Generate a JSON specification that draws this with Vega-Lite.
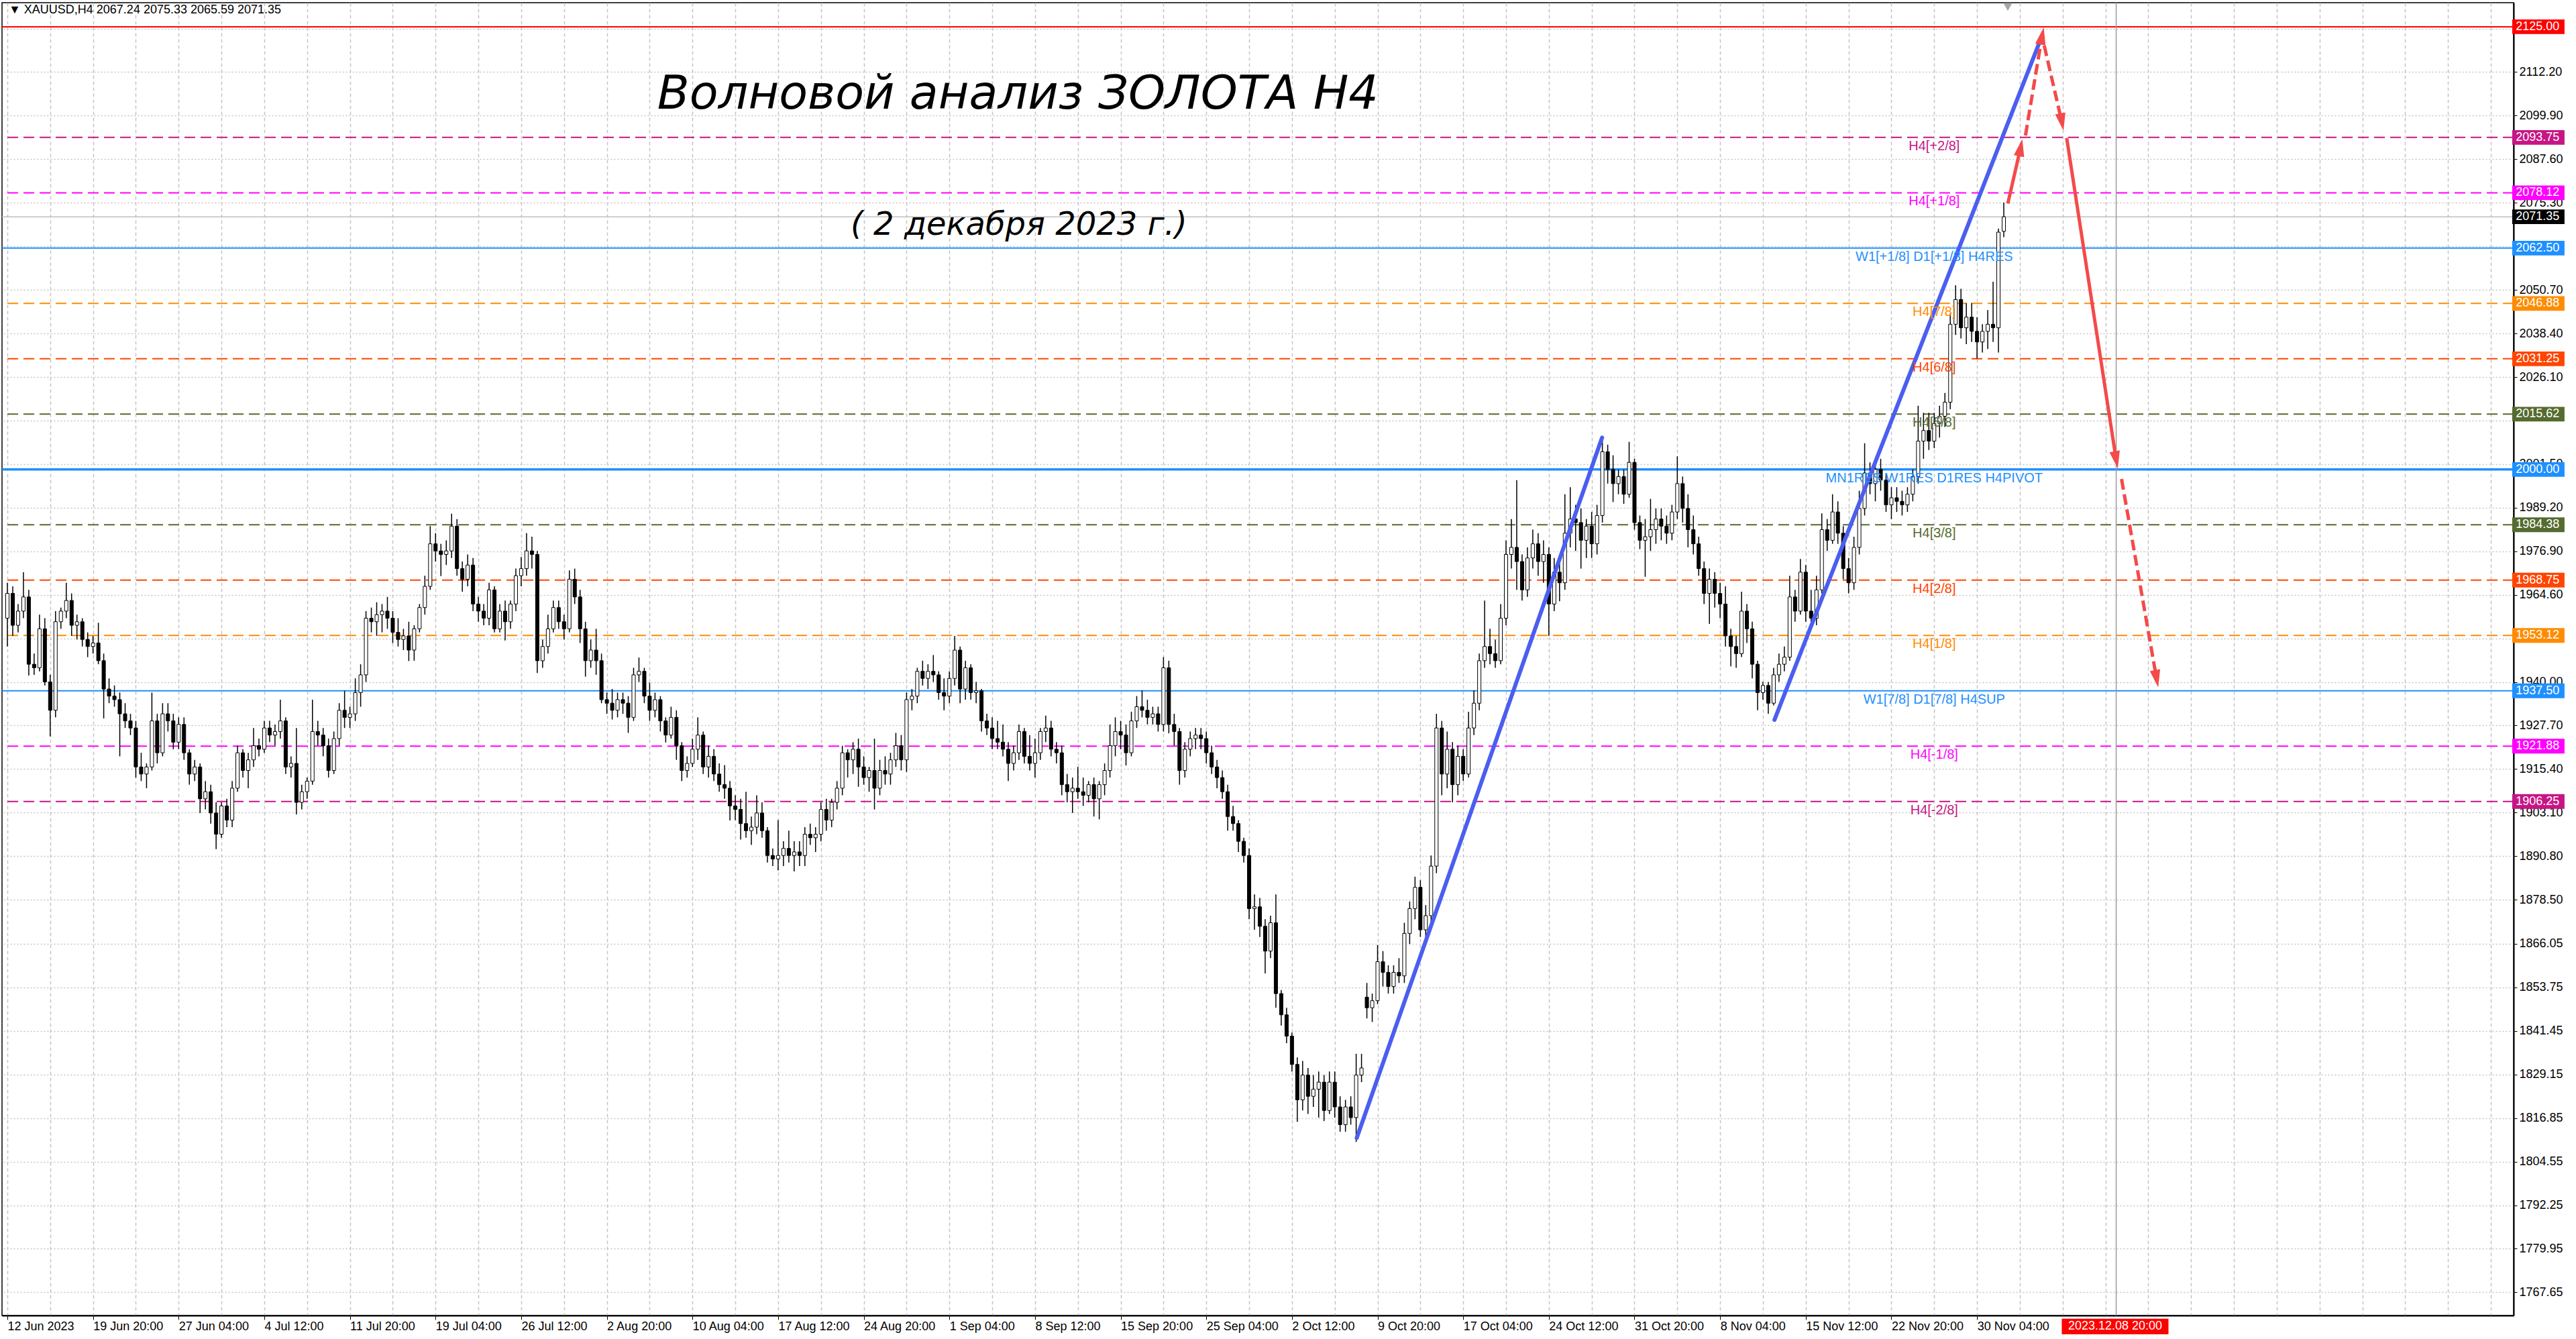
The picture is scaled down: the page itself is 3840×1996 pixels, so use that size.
{
  "$schema": "https://vega.github.io/schema/vega-lite/v6.json",
  "width": 3744,
  "height": 1957,
  "autosize": "none",
  "padding": {"left": 3, "top": 4, "right": 93, "bottom": 35},
  "background": "white",
  "config": {
    "view": {"stroke": "black", "strokeWidth": 1.5},
    "font": "Liberation Sans",
    "axis": {"title": null}
  },
  "datasets": {
    "levels": [
      {"p": 2125.00, "tag": "TOP"},
      {"p": 2093.75, "tag": "H4[+2/8]"},
      {"p": 2078.12, "tag": "H4[+1/8]"},
      {"p": 2062.50, "tag": "W1[+1/8] D1[+1/8] H4RES"},
      {"p": 2046.88, "tag": "H4[7/8]"},
      {"p": 2031.25, "tag": "H4[6/8]"},
      {"p": 2015.62, "tag": "H4[5/8]"},
      {"p": 2000.00, "tag": "MN1RES W1RES D1RES H4PIVOT"},
      {"p": 1984.38, "tag": "H4[3/8]"},
      {"p": 1968.75, "tag": "H4[2/8]"},
      {"p": 1953.12, "tag": "H4[1/8]"},
      {"p": 1937.50, "tag": "W1[7/8] D1[7/8] H4SUP"},
      {"p": 1921.88, "tag": "H4[-1/8]"},
      {"p": 1906.25, "tag": "H4[-2/8]"}
    ],
    "cur": [{"p": 2071.35}],
    "vline": [{"t": 788}],
    "trends": [
      {"L": "B1", "t": 504.2, "p": 1811.2},
      {"L": "B1", "t": 595.9, "p": 2009.0},
      {"L": "B2", "t": 660.3, "p": 1929.3},
      {"L": "B2", "t": 759.9, "p": 2121.7}
    ],
    "arrows": [
      {"a": "A1", "t": 747.5, "p": 2075.1},
      {"a": "A1", "t": 752.3, "p": 2090.9},
      {"a": "A2", "t": 754.1, "p": 2094.3},
      {"a": "A2", "t": 760.3, "p": 2122.4},
      {"a": "A3", "t": 761.1, "p": 2119.7},
      {"a": "A3", "t": 767.7, "p": 2098.1},
      {"a": "A4", "t": 769.5, "p": 2093.6},
      {"a": "A4", "t": 788.0, "p": 2002.7},
      {"a": "A5", "t": 790.0, "p": 1997.3},
      {"a": "A5", "t": 803.1, "p": 1940.9}
    ],
    "heads": [
      {"a": "A1", "t": 752.3, "p": 2090.9},
      {"a": "A2", "t": 760.3, "p": 2122.4},
      {"a": "A3", "t": 767.7, "p": 2098.1},
      {"a": "A4", "t": 788.0, "p": 2002.7},
      {"a": "A5", "t": 803.1, "p": 1940.9}
    ],
    "candles": [
      {"t":0,"o":1958,"h":1968,"l":1950,"c":1965},
      {"t":2,"o":1965,"h":1967,"l":1953,"c":1956},
      {"t":4,"o":1956,"h":1962,"l":1954,"c":1960},
      {"t":6,"o":1960,"h":1971,"l":1958,"c":1964},
      {"t":8,"o":1964,"h":1966,"l":1941.8,"c":1945},
      {"t":10,"o":1945,"h":1948,"l":1942,"c":1944},
      {"t":12,"o":1944,"h":1959,"l":1943,"c":1955},
      {"t":14,"o":1955,"h":1958,"l":1939,"c":1940},
      {"t":16,"o":1940,"h":1942,"l":1924.6,"c":1932},
      {"t":18,"o":1932,"h":1960,"l":1930,"c":1957},
      {"t":20,"o":1957,"h":1961,"l":1955,"c":1960},
      {"t":22,"o":1960,"h":1968,"l":1958,"c":1963},
      {"t":24,"o":1963,"h":1965,"l":1953,"c":1956},
      {"t":26,"o":1956,"h":1959,"l":1952,"c":1957},
      {"t":28,"o":1957,"h":1958,"l":1950,"c":1952},
      {"t":30,"o":1952,"h":1954,"l":1947,"c":1950},
      {"t":32,"o":1950,"h":1953,"l":1948,"c":1951},
      {"t":34,"o":1951,"h":1956.7,"l":1945,"c":1946},
      {"t":36,"o":1946,"h":1948,"l":1929.7,"c":1938},
      {"t":38,"o":1938,"h":1941,"l":1934,"c":1936},
      {"t":40,"o":1936,"h":1939,"l":1933,"c":1935},
      {"t":42,"o":1935,"h":1937,"l":1919,"c":1931},
      {"t":44,"o":1931,"h":1934,"l":1927,"c":1929},
      {"t":46,"o":1929,"h":1931,"l":1925,"c":1927},
      {"t":48,"o":1927,"h":1929,"l":1913,"c":1916},
      {"t":50,"o":1916,"h":1920,"l":1912,"c":1914},
      {"t":52,"o":1914,"h":1917,"l":1910,"c":1916},
      {"t":54,"o":1916,"h":1937,"l":1915,"c":1929},
      {"t":56,"o":1929,"h":1931,"l":1917,"c":1920},
      {"t":58,"o":1920,"h":1934,"l":1919,"c":1931},
      {"t":60,"o":1931,"h":1934,"l":1926,"c":1929},
      {"t":62,"o":1929,"h":1931,"l":1921,"c":1923},
      {"t":64,"o":1923,"h":1930,"l":1921,"c":1928},
      {"t":66,"o":1928,"h":1930,"l":1918,"c":1920},
      {"t":68,"o":1920,"h":1921,"l":1911,"c":1914},
      {"t":70,"o":1914,"h":1918,"l":1912,"c":1916},
      {"t":72,"o":1916,"h":1917,"l":1903,"c":1907},
      {"t":74,"o":1907,"h":1912,"l":1904,"c":1909},
      {"t":76,"o":1909,"h":1911,"l":1900,"c":1903},
      {"t":78,"o":1903,"h":1906,"l":1892.8,"c":1897},
      {"t":80,"o":1897,"h":1906,"l":1896,"c":1905},
      {"t":82,"o":1905,"h":1907,"l":1899,"c":1901},
      {"t":84,"o":1901,"h":1912,"l":1899,"c":1910},
      {"t":86,"o":1910,"h":1922,"l":1909,"c":1920},
      {"t":88,"o":1920,"h":1921,"l":1913,"c":1915},
      {"t":90,"o":1915,"h":1920,"l":1910,"c":1918},
      {"t":92,"o":1918,"h":1927,"l":1916,"c":1922},
      {"t":94,"o":1922,"h":1924,"l":1919,"c":1921},
      {"t":96,"o":1921,"h":1929,"l":1920,"c":1927},
      {"t":98,"o":1927,"h":1929,"l":1923,"c":1925},
      {"t":100,"o":1925,"h":1928,"l":1922,"c":1926},
      {"t":102,"o":1926,"h":1935,"l":1924,"c":1929},
      {"t":104,"o":1929,"h":1930,"l":1914,"c":1916},
      {"t":106,"o":1916,"h":1919,"l":1913,"c":1917},
      {"t":108,"o":1917,"h":1927,"l":1902.6,"c":1906},
      {"t":110,"o":1906,"h":1911,"l":1904,"c":1909},
      {"t":112,"o":1909,"h":1913,"l":1907,"c":1912},
      {"t":114,"o":1912,"h":1935,"l":1911,"c":1926},
      {"t":116,"o":1926,"h":1929,"l":1922,"c":1925},
      {"t":118,"o":1925,"h":1927,"l":1919,"c":1922},
      {"t":120,"o":1922,"h":1924,"l":1913,"c":1915},
      {"t":122,"o":1915,"h":1926,"l":1914,"c":1924},
      {"t":124,"o":1924,"h":1934,"l":1922,"c":1932},
      {"t":126,"o":1932,"h":1937.5,"l":1927,"c":1930},
      {"t":128,"o":1930,"h":1933,"l":1927,"c":1931},
      {"t":130,"o":1931,"h":1941,"l":1929,"c":1937},
      {"t":132,"o":1937,"h":1945,"l":1933,"c":1942},
      {"t":134,"o":1942,"h":1960,"l":1940,"c":1958},
      {"t":136,"o":1958,"h":1961,"l":1954,"c":1957},
      {"t":138,"o":1957,"h":1962.5,"l":1953,"c":1959},
      {"t":140,"o":1959,"h":1962,"l":1954,"c":1960},
      {"t":142,"o":1960,"h":1964,"l":1955,"c":1958},
      {"t":144,"o":1958,"h":1960,"l":1951,"c":1954},
      {"t":146,"o":1954,"h":1958,"l":1950,"c":1952},
      {"t":148,"o":1952,"h":1955,"l":1949,"c":1953},
      {"t":150,"o":1953,"h":1957,"l":1945.9,"c":1949},
      {"t":152,"o":1949,"h":1956,"l":1946,"c":1955},
      {"t":154,"o":1955,"h":1962,"l":1954,"c":1961},
      {"t":156,"o":1961,"h":1970,"l":1959,"c":1967},
      {"t":158,"o":1967,"h":1984,"l":1966,"c":1979},
      {"t":160,"o":1979,"h":1982,"l":1974,"c":1977},
      {"t":162,"o":1977,"h":1979,"l":1969.9,"c":1976},
      {"t":164,"o":1976,"h":1980,"l":1973,"c":1977},
      {"t":166,"o":1977,"h":1987.5,"l":1975,"c":1984},
      {"t":168,"o":1984,"h":1986,"l":1970,"c":1972},
      {"t":170,"o":1972,"h":1974,"l":1965.5,"c":1969},
      {"t":172,"o":1969,"h":1976,"l":1967,"c":1973},
      {"t":174,"o":1973,"h":1975,"l":1960,"c":1962},
      {"t":176,"o":1962,"h":1964,"l":1957,"c":1960},
      {"t":178,"o":1960,"h":1962,"l":1956,"c":1958},
      {"t":180,"o":1958,"h":1968,"l":1956,"c":1966},
      {"t":182,"o":1966,"h":1967,"l":1954,"c":1955},
      {"t":184,"o":1955,"h":1962,"l":1954,"c":1960},
      {"t":186,"o":1960,"h":1963,"l":1951.7,"c":1957},
      {"t":188,"o":1957,"h":1963,"l":1955,"c":1962},
      {"t":190,"o":1962,"h":1972,"l":1960,"c":1970},
      {"t":192,"o":1970,"h":1975.3,"l":1967,"c":1972},
      {"t":194,"o":1972,"h":1982,"l":1970,"c":1977},
      {"t":196,"o":1977,"h":1981,"l":1972,"c":1976},
      {"t":198,"o":1976,"h":1977,"l":1942.5,"c":1946},
      {"t":200,"o":1946,"h":1952,"l":1944,"c":1950},
      {"t":202,"o":1950,"h":1959,"l":1948,"c":1955},
      {"t":204,"o":1955,"h":1963,"l":1954,"c":1961},
      {"t":206,"o":1961,"h":1963,"l":1955,"c":1957},
      {"t":208,"o":1957,"h":1959,"l":1952,"c":1955},
      {"t":210,"o":1955,"h":1971.5,"l":1954,"c":1969},
      {"t":212,"o":1969,"h":1972,"l":1962,"c":1964},
      {"t":214,"o":1964,"h":1966,"l":1951,"c":1955},
      {"t":216,"o":1955,"h":1957,"l":1941.5,"c":1946},
      {"t":218,"o":1946,"h":1952,"l":1944,"c":1949},
      {"t":220,"o":1949,"h":1955,"l":1942,"c":1946},
      {"t":222,"o":1946,"h":1948,"l":1934,"c":1935},
      {"t":224,"o":1935,"h":1937,"l":1931,"c":1934},
      {"t":226,"o":1934,"h":1938,"l":1929.4,"c":1932},
      {"t":228,"o":1932,"h":1937,"l":1930,"c":1935},
      {"t":230,"o":1935,"h":1937,"l":1931,"c":1934},
      {"t":232,"o":1934,"h":1936,"l":1925.6,"c":1930},
      {"t":234,"o":1930,"h":1944,"l":1929,"c":1942},
      {"t":236,"o":1942,"h":1946.9,"l":1940,"c":1943},
      {"t":238,"o":1943,"h":1944,"l":1934,"c":1936},
      {"t":240,"o":1936,"h":1939.8,"l":1929,"c":1932},
      {"t":242,"o":1932,"h":1937,"l":1930,"c":1935},
      {"t":244,"o":1935,"h":1936,"l":1926,"c":1929},
      {"t":246,"o":1929,"h":1930,"l":1922.9,"c":1925},
      {"t":248,"o":1925,"h":1933,"l":1924,"c":1930},
      {"t":250,"o":1930,"h":1932,"l":1918,"c":1922},
      {"t":252,"o":1922,"h":1923,"l":1912,"c":1915},
      {"t":254,"o":1915,"h":1919,"l":1913,"c":1917},
      {"t":256,"o":1917,"h":1924,"l":1916,"c":1921},
      {"t":258,"o":1921,"h":1930,"l":1918,"c":1925},
      {"t":260,"o":1925,"h":1926,"l":1914,"c":1916},
      {"t":262,"o":1916,"h":1922,"l":1913,"c":1919},
      {"t":264,"o":1919,"h":1921,"l":1912,"c":1914},
      {"t":266,"o":1914,"h":1917,"l":1909,"c":1911},
      {"t":268,"o":1911,"h":1916.5,"l":1907,"c":1910},
      {"t":270,"o":1910,"h":1912,"l":1900.9,"c":1905},
      {"t":272,"o":1905,"h":1908,"l":1901,"c":1904},
      {"t":274,"o":1904,"h":1907,"l":1895.5,"c":1900},
      {"t":276,"o":1900,"h":1909,"l":1896,"c":1898},
      {"t":278,"o":1898,"h":1902,"l":1894,"c":1899},
      {"t":280,"o":1899,"h":1908,"l":1897,"c":1903},
      {"t":282,"o":1903,"h":1906,"l":1896,"c":1898},
      {"t":284,"o":1898,"h":1899,"l":1889,"c":1891},
      {"t":286,"o":1891,"h":1893,"l":1888,"c":1890},
      {"t":288,"o":1890,"h":1901,"l":1886.8,"c":1891},
      {"t":290,"o":1891,"h":1895,"l":1888,"c":1893},
      {"t":292,"o":1893,"h":1898,"l":1889,"c":1891},
      {"t":294,"o":1891,"h":1895,"l":1886.5,"c":1892},
      {"t":296,"o":1892,"h":1895,"l":1888,"c":1891},
      {"t":298,"o":1891,"h":1899,"l":1888,"c":1897},
      {"t":300,"o":1897,"h":1900,"l":1894,"c":1896},
      {"t":302,"o":1896,"h":1899,"l":1892,"c":1897},
      {"t":304,"o":1897,"h":1906,"l":1895,"c":1904},
      {"t":306,"o":1904,"h":1907,"l":1898,"c":1901},
      {"t":308,"o":1901,"h":1907,"l":1899,"c":1906},
      {"t":310,"o":1906,"h":1912,"l":1904,"c":1910},
      {"t":312,"o":1910,"h":1922,"l":1908,"c":1920},
      {"t":314,"o":1920,"h":1921,"l":1913,"c":1918},
      {"t":316,"o":1918,"h":1923,"l":1914,"c":1921},
      {"t":318,"o":1921,"h":1924,"l":1910.4,"c":1916},
      {"t":320,"o":1916,"h":1919,"l":1911,"c":1913},
      {"t":322,"o":1913,"h":1916,"l":1909,"c":1915},
      {"t":324,"o":1915,"h":1924,"l":1904,"c":1910},
      {"t":326,"o":1910,"h":1918,"l":1908,"c":1915},
      {"t":328,"o":1915,"h":1919,"l":1911,"c":1914},
      {"t":330,"o":1914,"h":1920,"l":1911,"c":1918},
      {"t":332,"o":1918,"h":1925.6,"l":1916,"c":1922},
      {"t":334,"o":1922,"h":1925,"l":1915,"c":1918},
      {"t":336,"o":1918,"h":1937,"l":1914.6,"c":1935},
      {"t":338,"o":1935,"h":1938,"l":1932,"c":1936},
      {"t":340,"o":1936,"h":1944,"l":1934,"c":1943},
      {"t":342,"o":1943,"h":1946,"l":1939,"c":1941},
      {"t":344,"o":1941,"h":1945,"l":1938,"c":1943},
      {"t":346,"o":1943,"h":1947.6,"l":1940,"c":1942},
      {"t":348,"o":1942,"h":1943,"l":1935,"c":1937},
      {"t":350,"o":1937,"h":1941,"l":1932,"c":1936},
      {"t":352,"o":1936,"h":1943,"l":1934,"c":1941},
      {"t":354,"o":1941,"h":1953,"l":1939,"c":1949},
      {"t":356,"o":1949,"h":1950,"l":1934,"c":1938},
      {"t":358,"o":1938,"h":1946,"l":1935,"c":1944},
      {"t":360,"o":1944,"h":1945,"l":1935,"c":1937},
      {"t":362,"o":1937,"h":1940,"l":1934,"c":1937.5},
      {"t":364,"o":1937.5,"h":1938,"l":1926,"c":1929},
      {"t":366,"o":1929,"h":1931,"l":1925,"c":1927},
      {"t":368,"o":1927,"h":1930,"l":1921,"c":1924},
      {"t":370,"o":1924,"h":1929,"l":1921,"c":1923},
      {"t":372,"o":1923,"h":1928,"l":1919,"c":1921},
      {"t":374,"o":1921,"h":1923,"l":1912,"c":1917},
      {"t":376,"o":1917,"h":1922,"l":1915,"c":1920},
      {"t":378,"o":1920,"h":1928,"l":1918,"c":1926},
      {"t":380,"o":1926,"h":1927,"l":1917,"c":1919},
      {"t":382,"o":1919,"h":1925,"l":1915,"c":1917},
      {"t":384,"o":1917,"h":1924,"l":1913,"c":1920},
      {"t":386,"o":1920,"h":1927,"l":1918,"c":1926},
      {"t":388,"o":1926,"h":1930.5,"l":1923,"c":1927},
      {"t":390,"o":1927,"h":1929,"l":1919,"c":1921},
      {"t":392,"o":1921,"h":1923,"l":1917,"c":1920},
      {"t":394,"o":1920,"h":1922,"l":1908,"c":1911},
      {"t":396,"o":1911,"h":1914,"l":1906,"c":1909},
      {"t":398,"o":1909,"h":1913,"l":1903,"c":1910},
      {"t":400,"o":1910,"h":1916,"l":1907,"c":1909},
      {"t":402,"o":1909,"h":1913,"l":1905,"c":1908},
      {"t":404,"o":1908,"h":1912,"l":1906,"c":1911},
      {"t":406,"o":1911,"h":1913,"l":1902,"c":1907},
      {"t":408,"o":1907,"h":1912,"l":1901.2,"c":1911},
      {"t":410,"o":1911,"h":1917,"l":1908,"c":1915},
      {"t":412,"o":1915,"h":1928,"l":1913,"c":1922},
      {"t":414,"o":1922,"h":1930,"l":1919,"c":1926},
      {"t":416,"o":1926,"h":1929,"l":1921,"c":1925},
      {"t":418,"o":1925,"h":1928,"l":1916.4,"c":1920},
      {"t":420,"o":1920,"h":1931.6,"l":1919,"c":1929},
      {"t":422,"o":1929,"h":1936,"l":1927,"c":1933},
      {"t":424,"o":1933,"h":1937.6,"l":1930,"c":1932},
      {"t":426,"o":1932,"h":1935,"l":1928,"c":1930},
      {"t":428,"o":1930,"h":1933,"l":1928,"c":1931},
      {"t":430,"o":1931,"h":1933,"l":1926,"c":1928},
      {"t":432,"o":1928,"h":1947,"l":1926,"c":1944},
      {"t":434,"o":1944,"h":1946,"l":1925.5,"c":1928},
      {"t":436,"o":1928,"h":1931,"l":1922,"c":1926},
      {"t":438,"o":1926,"h":1927,"l":1911,"c":1915},
      {"t":440,"o":1915,"h":1923,"l":1913,"c":1921},
      {"t":442,"o":1921,"h":1926,"l":1919,"c":1924},
      {"t":444,"o":1924,"h":1927,"l":1921,"c":1925},
      {"t":446,"o":1925,"h":1927,"l":1921,"c":1924},
      {"t":448,"o":1924,"h":1926,"l":1917,"c":1920},
      {"t":450,"o":1920,"h":1922,"l":1914,"c":1916},
      {"t":452,"o":1916,"h":1918,"l":1910,"c":1913},
      {"t":454,"o":1913,"h":1915,"l":1907,"c":1909},
      {"t":456,"o":1909,"h":1911,"l":1898,"c":1902},
      {"t":458,"o":1902,"h":1905,"l":1898,"c":1900},
      {"t":460,"o":1900,"h":1901,"l":1892,"c":1895},
      {"t":462,"o":1895,"h":1896,"l":1889,"c":1891},
      {"t":464,"o":1891,"h":1893,"l":1873,"c":1876},
      {"t":466,"o":1876,"h":1880,"l":1870,"c":1876.5},
      {"t":468,"o":1876.5,"h":1879,"l":1868,"c":1871},
      {"t":470,"o":1871,"h":1873,"l":1857.7,"c":1864},
      {"t":472,"o":1864,"h":1874,"l":1862,"c":1872},
      {"t":474,"o":1872,"h":1880,"l":1848,"c":1852},
      {"t":476,"o":1852,"h":1853,"l":1843,"c":1846},
      {"t":478,"o":1846,"h":1848,"l":1838,"c":1840},
      {"t":480,"o":1840,"h":1841,"l":1830,"c":1832},
      {"t":482,"o":1832,"h":1834,"l":1815.8,"c":1822},
      {"t":484,"o":1822,"h":1833,"l":1819,"c":1829},
      {"t":486,"o":1829,"h":1831,"l":1818,"c":1823},
      {"t":488,"o":1823,"h":1829,"l":1820,"c":1825},
      {"t":490,"o":1825,"h":1830,"l":1817,"c":1827},
      {"t":492,"o":1827,"h":1829,"l":1816,"c":1819},
      {"t":494,"o":1819,"h":1830,"l":1818,"c":1827},
      {"t":496,"o":1827,"h":1830,"l":1817,"c":1820},
      {"t":498,"o":1820,"h":1823,"l":1813,"c":1815},
      {"t":500,"o":1815,"h":1822,"l":1813,"c":1820},
      {"t":502,"o":1820,"h":1823,"l":1815,"c":1817},
      {"t":504,"o":1817,"h":1835,"l":1810.1,"c":1829},
      {"t":506,"o":1829,"h":1835,"l":1827,"c":1831},
      {"t":508,"o":1851,"h":1855,"l":1845,"c":1848},
      {"t":510,"o":1848,"h":1852,"l":1844,"c":1850},
      {"t":512,"o":1850,"h":1865.7,"l":1849,"c":1861},
      {"t":514,"o":1861,"h":1864,"l":1854,"c":1858},
      {"t":516,"o":1858,"h":1860,"l":1852,"c":1854},
      {"t":518,"o":1854,"h":1860,"l":1852,"c":1858},
      {"t":520,"o":1858,"h":1862,"l":1855,"c":1857},
      {"t":522,"o":1857,"h":1872,"l":1855,"c":1869},
      {"t":524,"o":1869,"h":1878,"l":1866,"c":1876},
      {"t":526,"o":1876,"h":1885,"l":1873,"c":1882},
      {"t":528,"o":1882,"h":1884,"l":1868,"c":1870},
      {"t":530,"o":1870,"h":1877,"l":1866,"c":1874},
      {"t":532,"o":1874,"h":1891,"l":1872,"c":1888},
      {"t":534,"o":1888,"h":1931,"l":1886,"c":1927},
      {"t":536,"o":1927,"h":1929,"l":1908,"c":1914},
      {"t":538,"o":1914,"h":1926,"l":1910,"c":1921},
      {"t":540,"o":1921,"h":1923,"l":1906,"c":1911},
      {"t":542,"o":1911,"h":1922,"l":1908,"c":1919},
      {"t":544,"o":1919,"h":1921,"l":1912,"c":1914},
      {"t":546,"o":1914,"h":1931.6,"l":1913,"c":1927},
      {"t":548,"o":1927,"h":1937.6,"l":1925,"c":1934},
      {"t":550,"o":1934,"h":1948,"l":1932,"c":1946},
      {"t":552,"o":1946,"h":1963,"l":1944,"c":1950},
      {"t":554,"o":1950,"h":1955,"l":1945,"c":1948},
      {"t":556,"o":1948,"h":1952,"l":1944,"c":1946},
      {"t":558,"o":1946,"h":1962,"l":1945,"c":1958},
      {"t":560,"o":1958,"h":1980,"l":1956,"c":1976},
      {"t":562,"o":1976,"h":1986,"l":1972,"c":1978},
      {"t":564,"o":1978,"h":1997,"l":1966,"c":1974},
      {"t":566,"o":1974,"h":1976,"l":1963,"c":1966},
      {"t":568,"o":1966,"h":1978,"l":1964,"c":1975},
      {"t":570,"o":1975,"h":1983,"l":1972,"c":1979},
      {"t":572,"o":1979,"h":1982,"l":1970,"c":1974},
      {"t":574,"o":1974,"h":1980,"l":1968,"c":1976},
      {"t":576,"o":1976,"h":1978,"l":1953,"c":1962},
      {"t":578,"o":1962,"h":1975,"l":1960,"c":1971},
      {"t":580,"o":1971,"h":1976,"l":1962.8,"c":1968},
      {"t":582,"o":1968,"h":1993,"l":1966,"c":1982},
      {"t":584,"o":1982,"h":1995,"l":1978,"c":1986},
      {"t":586,"o":1986,"h":1990,"l":1977,"c":1985},
      {"t":588,"o":1985,"h":1989,"l":1972,"c":1980},
      {"t":590,"o":1980,"h":1986,"l":1975,"c":1984},
      {"t":592,"o":1984,"h":1988,"l":1975,"c":1979},
      {"t":594,"o":1979,"h":1990,"l":1976,"c":1987},
      {"t":596,"o":1987,"h":2009,"l":1985,"c":2005},
      {"t":598,"o":2005,"h":2007,"l":1996,"c":2000},
      {"t":600,"o":2000,"h":2004,"l":1990.8,"c":1996},
      {"t":602,"o":1996,"h":2000,"l":1993,"c":1998},
      {"t":604,"o":1998,"h":2000,"l":1990.3,"c":1993},
      {"t":606,"o":1993,"h":2007.8,"l":1992,"c":2002},
      {"t":608,"o":2002,"h":2003,"l":1983,"c":1985},
      {"t":610,"o":1985,"h":1987,"l":1977.5,"c":1980},
      {"t":612,"o":1980,"h":1986,"l":1969.7,"c":1981},
      {"t":614,"o":1981,"h":1991.7,"l":1977,"c":1983},
      {"t":616,"o":1983,"h":1989,"l":1979,"c":1986},
      {"t":618,"o":1986,"h":1989,"l":1980,"c":1984},
      {"t":620,"o":1984,"h":1987,"l":1979,"c":1982},
      {"t":622,"o":1982,"h":1990,"l":1980,"c":1988},
      {"t":624,"o":1988,"h":2003.7,"l":1986,"c":1996},
      {"t":626,"o":1996,"h":1998,"l":1985,"c":1989},
      {"t":628,"o":1989,"h":1993,"l":1978,"c":1983},
      {"t":630,"o":1983,"h":1987,"l":1976,"c":1979},
      {"t":632,"o":1979,"h":1981,"l":1970,"c":1972},
      {"t":634,"o":1972,"h":1974,"l":1962,"c":1965},
      {"t":636,"o":1965,"h":1972,"l":1956.4,"c":1969},
      {"t":638,"o":1969,"h":1971,"l":1961,"c":1965},
      {"t":640,"o":1965,"h":1968,"l":1958,"c":1962},
      {"t":642,"o":1962,"h":1967,"l":1950,"c":1953},
      {"t":644,"o":1953,"h":1955,"l":1944.4,"c":1950},
      {"t":646,"o":1950,"h":1953,"l":1944,"c":1948},
      {"t":648,"o":1948,"h":1965.5,"l":1947,"c":1960},
      {"t":650,"o":1960,"h":1962,"l":1951,"c":1955},
      {"t":652,"o":1955,"h":1957,"l":1941,"c":1945},
      {"t":654,"o":1945,"h":1946,"l":1932,"c":1937},
      {"t":656,"o":1937,"h":1940,"l":1935,"c":1939},
      {"t":658,"o":1939,"h":1940,"l":1931,"c":1934},
      {"t":660,"o":1934,"h":1944,"l":1933.4,"c":1942},
      {"t":662,"o":1942,"h":1948,"l":1940,"c":1945},
      {"t":664,"o":1945,"h":1950,"l":1943,"c":1947},
      {"t":666,"o":1947,"h":1970,"l":1946,"c":1964},
      {"t":668,"o":1964,"h":1966,"l":1957,"c":1960},
      {"t":670,"o":1960,"h":1974.7,"l":1959,"c":1971},
      {"t":672,"o":1971,"h":1973,"l":1957,"c":1960},
      {"t":674,"o":1960,"h":1966,"l":1955,"c":1958},
      {"t":676,"o":1958,"h":1970,"l":1956,"c":1966},
      {"t":678,"o":1966,"h":1987.6,"l":1965,"c":1983},
      {"t":680,"o":1983,"h":1986,"l":1977,"c":1980},
      {"t":682,"o":1980,"h":1993,"l":1979,"c":1988},
      {"t":684,"o":1988,"h":1991,"l":1979,"c":1982},
      {"t":686,"o":1982,"h":1984,"l":1969,"c":1972},
      {"t":688,"o":1972,"h":1975,"l":1965,"c":1968},
      {"t":690,"o":1968,"h":1981,"l":1966,"c":1978},
      {"t":692,"o":1978,"h":1994,"l":1976,"c":1989},
      {"t":694,"o":1989,"h":2007.4,"l":1987,"c":1999},
      {"t":696,"o":1999,"h":2002,"l":1993,"c":1996},
      {"t":698,"o":1996,"h":2003,"l":1991,"c":2000},
      {"t":700,"o":2000,"h":2003,"l":1994,"c":1997},
      {"t":702,"o":1997,"h":1999,"l":1988,"c":1990},
      {"t":704,"o":1990,"h":1995,"l":1986,"c":1992},
      {"t":706,"o":1992,"h":1995,"l":1988,"c":1991},
      {"t":708,"o":1991,"h":1994,"l":1987,"c":1990},
      {"t":710,"o":1990,"h":1995,"l":1988,"c":1993},
      {"t":712,"o":1993,"h":2000,"l":1991,"c":1998},
      {"t":714,"o":1998,"h":2018,"l":1996,"c":2008},
      {"t":716,"o":2008,"h":2016,"l":2003,"c":2011},
      {"t":718,"o":2011,"h":2016,"l":2005.5,"c":2008},
      {"t":720,"o":2008,"h":2016,"l":2006,"c":2013},
      {"t":722,"o":2013,"h":2018,"l":2009,"c":2015},
      {"t":724,"o":2015,"h":2021.6,"l":2012,"c":2019},
      {"t":726,"o":2019,"h":2044,"l":2017,"c":2041},
      {"t":728,"o":2041,"h":2052,"l":2038,"c":2048},
      {"t":730,"o":2048,"h":2051,"l":2037,"c":2040},
      {"t":732,"o":2040,"h":2047,"l":2035.4,"c":2043},
      {"t":734,"o":2043,"h":2047,"l":2036,"c":2039},
      {"t":736,"o":2039,"h":2043,"l":2031.3,"c":2036},
      {"t":738,"o":2036,"h":2041,"l":2033,"c":2039},
      {"t":740,"o":2039,"h":2045,"l":2034,"c":2041},
      {"t":742,"o":2041,"h":2053,"l":2036,"c":2040},
      {"t":744,"o":2040,"h":2068,"l":2033,"c":2067},
      {"t":746,"o":2067.24,"h":2075.33,"l":2065.59,"c":2071.35}
    ]
  },
  "layer": [
    {
      "data": {"name": "levels"},
      "mark": {"type": "rule", "strokeWidth": 2},
      "encoding": {
        "y": {
          "field": "p", "type": "quantitative",
          "scale": {"domain": [1761.1, 2131.8], "nice": false, "zero": false},
          "axis": {
            "orient": "right", "title": null,
            "values": [2124.5, 2112.2, 2099.9, 2087.6, 2075.3, 2063.0, 2050.7, 2038.4, 2026.1, 2013.8, 2001.5, 1989.2, 1976.9, 1964.6, 1952.3, 1940.0, 1927.7, 1915.4, 1903.1, 1890.8, 1878.5, 1866.05, 1853.75, 1841.45, 1829.15, 1816.85, 1804.55, 1792.25, 1779.95, 1767.65],
            "labelExpr": "datum.value === 2013.8 || datum.value === 2063 || datum.value === 2124.5 || datum.value === 1952.3 ? '' : format(datum.value, '.2f')",
            "labelFontSize": 18, "labelColor": "black", "labelAlign": "left",
            "labelPadding": 3, "labelOverlap": false, "labelFlush": false,
            "tickSize": 5, "tickColor": "black", "domainColor": "black", "domainWidth": 2,
            "grid": true, "gridColor": "#c4c4c4", "gridDash": [2, 3], "gridWidth": 1.5
          }
        },
        "color": {
          "field": "tag", "type": "nominal", "legend": null,
          "scale": {
            "domain": ["TOP", "H4[+2/8]", "H4[+1/8]", "W1[+1/8] D1[+1/8] H4RES", "H4[7/8]", "H4[6/8]", "H4[5/8]", "MN1RES W1RES D1RES H4PIVOT", "H4[3/8]", "H4[2/8]", "H4[1/8]", "W1[7/8] D1[7/8] H4SUP", "H4[-1/8]", "H4[-2/8]"],
            "range": ["#ff0000", "#c71585", "#ff00ff", "#1e90ff", "#ff8c00", "#ff4500", "#556b2f", "#1e90ff", "#556b2f", "#ff4500", "#ff8c00", "#1e90ff", "#ff00ff", "#c71585"]
          }
        },
        "strokeDash": {
          "field": "tag", "type": "nominal", "legend": null,
          "scale": {
            "domain": ["TOP", "H4[+2/8]", "H4[+1/8]", "W1[+1/8] D1[+1/8] H4RES", "H4[7/8]", "H4[6/8]", "H4[5/8]", "MN1RES W1RES D1RES H4PIVOT", "H4[3/8]", "H4[2/8]", "H4[1/8]", "W1[7/8] D1[7/8] H4SUP", "H4[-1/8]", "H4[-2/8]"],
            "range": [[1, 0], [16, 8], [16, 8], [1, 0], [16, 8], [16, 8], [16, 8], [1, 0], [16, 8], [16, 8], [16, 8], [1, 0], [16, 8], [16, 8]]
          }
        }
      }
    },
    {
      "data": {"name": "levels"},
      "transform": [{"filter": "datum.tag === 'MN1RES W1RES D1RES H4PIVOT'"}],
      "mark": {"type": "rule", "strokeWidth": 3.5, "color": "#1e90ff"},
      "encoding": {"y": {"field": "p", "type": "quantitative"}}
    },
    {
      "data": {"name": "cur"},
      "mark": {"type": "rule", "strokeWidth": 1.5, "color": "#c0c0c0"},
      "encoding": {"y": {"field": "p", "type": "quantitative"}}
    },
    {
      "data": {"name": "vline"},
      "mark": {"type": "rule", "strokeWidth": 1.5, "color": "#9a9a9a"},
      "encoding": {
        "x": {
          "field": "t", "type": "quantitative",
          "scale": {"domain": [-0.75, 935.25], "nice": false, "zero": false},
          "axis": {
            "orient": "bottom", "title": null,
            "values": [0, 16, 32, 48, 64, 80, 96, 112, 128, 144, 160, 176, 192, 208, 224, 240, 256, 272, 288, 304, 320, 336, 352, 368, 384, 400, 416, 432, 448, 464, 480, 496, 512, 528, 544, 560, 576, 592, 608, 624, 640, 656, 672, 688, 704, 720, 736, 752, 768, 784, 800, 816, 832, 848, 864, 880, 896, 912, 928],
            "labelExpr": "datum.value % 32 === 0 && datum.value <= 736 ? ['12 Jun 2023','19 Jun 20:00','27 Jun 04:00','4 Jul 12:00','11 Jul 20:00','19 Jul 04:00','26 Jul 12:00','2 Aug 20:00','10 Aug 04:00','17 Aug 12:00','24 Aug 20:00','1 Sep 04:00','8 Sep 12:00','15 Sep 20:00','25 Sep 04:00','2 Oct 12:00','9 Oct 20:00','17 Oct 04:00','24 Oct 12:00','31 Oct 20:00','8 Nov 04:00','15 Nov 12:00','22 Nov 20:00','30 Nov 04:00'][datum.value / 32] : ''",
            "labelAlign": "left", "labelBaseline": "top", "labelFontSize": 18, "labelColor": "black",
            "labelPadding": 1, "labelOverlap": false, "labelFlush": false,
            "tickSize": 6, "tickColor": "black",
            "tickOpacity": {"condition": {"test": "datum.value % 32 === 0 && datum.value <= 736", "value": 1}, "value": 0},
            "domainColor": "black", "domainWidth": 2,
            "grid": true, "gridColor": "#c4c4c4", "gridDash": [5, 4], "gridWidth": 1.5
          }
        }
      }
    },
    {
      "data": {"name": "candles"},
      "mark": {"type": "rule", "strokeWidth": 1.5, "color": "black"},
      "encoding": {
        "x": {"field": "t", "type": "quantitative"},
        "y": {"field": "l", "type": "quantitative"},
        "y2": {"field": "h"}
      }
    },
    {
      "data": {"name": "candles"},
      "mark": {"type": "bar", "width": 5, "stroke": "black", "strokeWidth": 1},
      "encoding": {
        "x": {"field": "t", "type": "quantitative"},
        "y": {"field": "o", "type": "quantitative"},
        "y2": {"field": "c"},
        "fill": {"condition": {"test": "datum.c >= datum.o", "value": "white"}, "value": "black"}
      }
    },
    {
      "data": {"name": "trends"},
      "mark": {"type": "line", "strokeWidth": 6, "color": "#4b5ef0", "strokeCap": "round"},
      "encoding": {
        "x": {"field": "t", "type": "quantitative"},
        "y": {"field": "p", "type": "quantitative"},
        "detail": {"field": "L"}
      }
    },
    {
      "data": {"name": "arrows"},
      "transform": [{"filter": {"field": "a", "oneOf": ["A1", "A4"]}}],
      "mark": {"type": "line", "strokeWidth": 5, "color": "#f44a4a"},
      "encoding": {
        "x": {"field": "t", "type": "quantitative"},
        "y": {"field": "p", "type": "quantitative"},
        "detail": {"field": "a"}
      }
    },
    {
      "data": {"name": "arrows"},
      "transform": [{"filter": {"field": "a", "oneOf": ["A2", "A3", "A5"]}}],
      "mark": {"type": "line", "strokeWidth": 5, "color": "#f44a4a", "strokeDash": [16, 7]},
      "encoding": {
        "x": {"field": "t", "type": "quantitative"},
        "y": {"field": "p", "type": "quantitative"},
        "detail": {"field": "a"}
      }
    },
    {
      "data": {"name": "heads"},
      "transform": [{"filter": {"field": "a", "oneOf": ["A1", "A2"]}}],
      "mark": {"type": "point", "shape": "M0,-1L0.6,1L-0.6,1Z", "size": 676, "angle": 11, "filled": true, "opacity": 1, "color": "#f44a4a"},
      "encoding": {
        "x": {"field": "t", "type": "quantitative"},
        "y": {"field": "p", "type": "quantitative"}
      }
    },
    {
      "data": {"name": "heads"},
      "transform": [{"filter": {"field": "a", "oneOf": ["A3", "A4", "A5"]}}],
      "mark": {"type": "point", "shape": "M0,-1L0.6,1L-0.6,1Z", "size": 676, "angle": 169.5, "filled": true, "opacity": 1, "color": "#f44a4a"},
      "encoding": {
        "x": {"field": "t", "type": "quantitative"},
        "y": {"field": "p", "type": "quantitative"}
      }
    },
    {
      "data": {"name": "levels"},
      "transform": [{"filter": "datum.tag !== 'TOP'"}],
      "mark": {"type": "text", "align": "center", "baseline": "top", "dy": 3, "fontSize": 20},
      "encoding": {
        "x": {"datum": 720, "type": "quantitative"},
        "y": {"field": "p", "type": "quantitative"},
        "text": {"field": "tag"},
        "color": {"field": "tag", "type": "nominal", "legend": null}
      }
    },
    {
      "data": {"name": "levels"},
      "mark": {"type": "point", "shape": "M-1,-0.28L1,-0.28L1,0.28L-1,0.28Z", "size": 6084, "filled": true, "opacity": 1},
      "encoding": {
        "x": {"datum": 945.75, "type": "quantitative"},
        "y": {"field": "p", "type": "quantitative"},
        "color": {"field": "tag", "type": "nominal", "legend": null}
      }
    },
    {
      "data": {"name": "levels"},
      "mark": {"type": "text", "align": "left", "baseline": "middle", "fontSize": 18, "color": "white"},
      "encoding": {
        "x": {"datum": 937.3, "type": "quantitative"},
        "y": {"field": "p", "type": "quantitative"},
        "text": {"field": "p", "type": "quantitative", "format": ".2f"}
      }
    },
    {
      "data": {"name": "cur"},
      "mark": {"type": "point", "shape": "M-1,-0.28L1,-0.28L1,0.28L-1,0.28Z", "size": 6084, "filled": true, "opacity": 1, "color": "black"},
      "encoding": {
        "x": {"datum": 945.75, "type": "quantitative"},
        "y": {"field": "p", "type": "quantitative"}
      }
    },
    {
      "data": {"name": "cur"},
      "mark": {"type": "text", "align": "left", "baseline": "middle", "fontSize": 18, "color": "white"},
      "encoding": {
        "x": {"datum": 937.3, "type": "quantitative"},
        "y": {"field": "p", "type": "quantitative"},
        "text": {"field": "p", "type": "quantitative", "format": ".2f"}
      }
    },
    {
      "data": {"values": [{}]},
      "mark": {"type": "point", "shape": "M-1,-0.147L1,-0.147L1,0.147L-1,0.147Z", "size": 25281, "filled": true, "opacity": 1, "color": "#ff0000"},
      "encoding": {
        "x": {"datum": 787.6, "type": "quantitative"},
        "y": {"datum": 1758.0, "type": "quantitative"}
      }
    },
    {
      "data": {"values": [{}]},
      "mark": {"type": "text", "text": "2023.12.08 20:00", "align": "center", "baseline": "middle", "fontSize": 18, "color": "white"},
      "encoding": {
        "x": {"datum": 787.6, "type": "quantitative"},
        "y": {"datum": 1758.0, "type": "quantitative"}
      }
    },
    {
      "data": {"values": [{}]},
      "mark": {"type": "point", "shape": "triangle-down", "size": 180, "filled": true, "opacity": 1, "color": "#a8a8a8"},
      "encoding": {
        "x": {"datum": 747.5, "type": "quantitative"},
        "y": {"datum": 2130.6, "type": "quantitative"}
      }
    },
    {
      "data": {"values": [{}]},
      "mark": {"type": "text", "text": "▼ XAUUSD,H4  2067.24 2075.33 2065.59 2071.35", "align": "left", "baseline": "middle", "fontSize": 18, "color": "black"},
      "encoding": {
        "x": {"datum": 0.5, "type": "quantitative"},
        "y": {"datum": 2129.8, "type": "quantitative"}
      }
    },
    {
      "data": {"values": [{}]},
      "mark": {"type": "text", "text": "Волновой анализ ЗОЛОТА H4", "align": "center", "baseline": "alphabetic", "font": "DejaVu Sans", "fontStyle": "italic", "fontSize": 70, "color": "black"},
      "encoding": {
        "x": {"datum": 377.6, "type": "quantitative"},
        "y": {"datum": 2101.9, "type": "quantitative"}
      }
    },
    {
      "data": {"values": [{}]},
      "mark": {"type": "text", "text": "( 2 декабря 2023 г.)", "align": "center", "baseline": "alphabetic", "font": "DejaVu Sans", "fontStyle": "italic", "fontSize": 48, "color": "black"},
      "encoding": {
        "x": {"datum": 378, "type": "quantitative"},
        "y": {"datum": 2066.25, "type": "quantitative"}
      }
    }
  ]
}
